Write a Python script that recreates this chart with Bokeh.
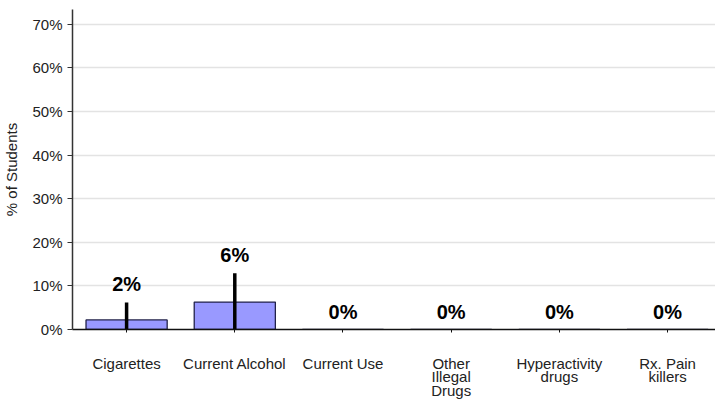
from bokeh.plotting import figure
from bokeh.models import ColumnDataSource, Range1d, FixedTicker, PrintfTickFormatter
from bokeh.core.properties import value
from bokeh.embed import file_html
from bokeh.resources import INLINE

categories = ["Cigarettes", "Current Alcohol", "Current Use", "Other Illegal Drugs",
              "Hyperactivity drugs", "Rx. Pain killers"]
tick_labels = ["Cigarettes", "Current Alcohol", "Current Use", "Other\nIllegal\nDrugs",
               "Hyperactivity\ndrugs", "Rx. Pain\nkillers"]
values = [2.2, 6.3, 0, 0, 0, 0]
errors = [4.0, 6.6, 0, 0, 0, 0]
y_ticks = [0, 10, 20, 30, 40, 50, 60, 70]

xs = [i + 0.5 for i in range(len(categories))]
lows = [max(0, v - e) for v, e in zip(values, errors)]
highs = [v + e for v, e in zip(values, errors)]
labels = [f"{round(v)}%" for v in values]

src = ColumnDataSource(dict(x=xs, v=values, lo=lows, hi=highs, lab=labels, cat=categories))

FONT = "Liberation Sans"

p = figure(width=715, height=402, output_backend="svg", toolbar_location=None,
           x_range=Range1d(0, 5.943), y_range=Range1d(0, 73.4),
           min_border_left=72, min_border_right=0, min_border_top=9, min_border_bottom=73)
p.outline_line_color = None
p.background_fill_color = "white"

p.vbar(x="x", top="v", bottom=0, width=0.75, source=src,
       fill_color="#9999ff", line_color="#22224a", line_width=1.3)
p.segment(x0="x", y0="lo", x1="x", y1="hi", source=src, line_color="black", line_width=3.5)
p.text(x="x", y="hi", text="lab", source=src, text_align="center", text_baseline="bottom",
       y_offset=-7, text_font=value(FONT), text_font_style="bold", text_font_size="20px",
       text_color="black")

# y axis
p.yaxis.ticker = FixedTicker(ticks=y_ticks)
p.yaxis.formatter = PrintfTickFormatter(format="%d%%")
p.yaxis.axis_label = "% of Students"
p.yaxis.axis_label_text_font = FONT
p.yaxis.axis_label_text_font_style = "normal"
p.yaxis.axis_label_text_font_size = "15px"
p.yaxis.axis_label_text_color = "#222222"
p.yaxis.axis_label_standoff = 9
p.yaxis.major_label_text_font = FONT
p.yaxis.major_label_text_font_size = "15px"
p.yaxis.major_label_text_color = "#222222"
p.yaxis.major_label_standoff = 5
p.yaxis.major_tick_out = 5
p.yaxis.major_tick_in = 0
p.yaxis.minor_tick_out = 0
p.yaxis.minor_tick_in = 0
p.yaxis.axis_line_color = "#333333"
p.yaxis.axis_line_width = 1.5
p.yaxis.major_tick_line_color = "#333333"

# x axis
p.xaxis.ticker = FixedTicker(ticks=xs)
p.xaxis.major_label_overrides = {x: t for x, t in zip(xs, tick_labels)}
p.xaxis.major_label_text_font = FONT
p.xaxis.major_label_text_font_size = "15px"
p.xaxis.major_label_text_color = "#222222"
p.xaxis.major_label_text_line_height = 0.8
p.xaxis.major_label_standoff = 22
p.xaxis.major_tick_out = 3
p.xaxis.major_tick_in = 0
p.xaxis.minor_tick_out = 0
p.xaxis.minor_tick_in = 0
p.xaxis.axis_line_color = "#111111"
p.xaxis.axis_line_width = 1.5
p.xaxis.major_tick_line_color = "#111111"

p.xgrid.grid_line_color = None
p.ygrid.grid_line_color = "#e3e3e3"
p.ygrid.grid_line_width = 1.5

open("out.html", "w").write(file_html(p, INLINE))
